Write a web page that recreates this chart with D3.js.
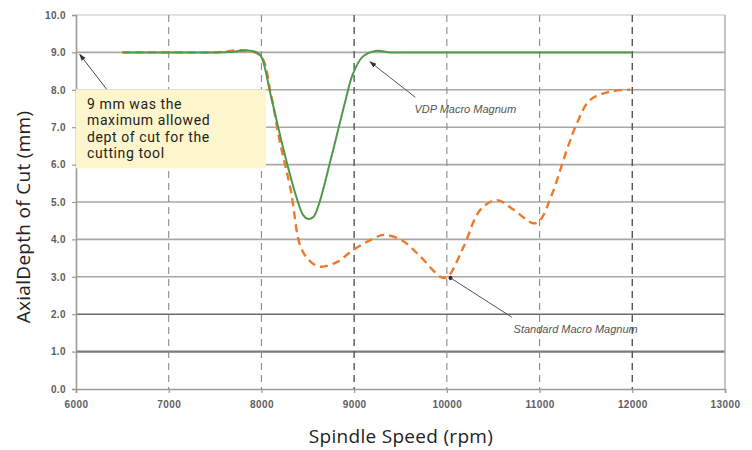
<!DOCTYPE html>
<html><head><meta charset="utf-8">
<script src="https://cdn.jsdelivr.net/npm/d3@7"></script>
<style>body{margin:0;background:#fff}svg{display:block}</style>
</head><body>
<svg id="c" width="752" height="450"></svg>
<script>
const xTicks = [6000,7000,8000,9000,10000,11000,12000,13000];
const yTicks = [0,1,2,3,4,5,6,7,8,9,10];
const vdpRpm   = [6500,7000,7500,7700,7850,7950,8000,8100,8240,8370,8450,8500,8560,8617,8746,8908,8983,9090,9230,9400,9800,10500,11500,12000];
const vdpDepth = [9.0,9.0,9.0,9.02,9.05,9.0,8.88,7.86,6.39,5.19,4.65,4.55,4.6,4.92,6.12,7.73,8.4,8.88,9.04,9.0,9.0,9.0,9.0,9.0];
const stdRpm   = [6500,7000,7500,7850,8000,8100,8200,8316,8423,8531,8638,8818,8990,9248,9320,9500,9715,9930,10000,10180,10360,10540,10720,10934,11007,11133,11294,11402,11545,11760,11976];
const stdDepth = [9.0,9.0,9.0,9.05,8.88,7.9,6.6,5.32,3.8,3.4,3.27,3.4,3.72,4.07,4.12,4.0,3.54,3.0,2.98,3.8,4.79,5.05,4.79,4.43,4.52,5.2,6.39,7.1,7.73,7.95,8.0];
const noteLines = ["9 mm was the","maximum allowed","dept of cut for the","cutting tool"];

const svg = d3.select("#c");
const x = d3.scaleLinear().domain([6000,13000]).range([76,725]);
const y = d3.scaleLinear().domain([0,10]).range([389,15]);

// horizontal grid
const hColor = v => v===1 ? "#7a7a7a" : v===2 ? "#6a6a6a" : v===10 ? "#d6d6d6" : "#a8a8a8";
const hWidth = v => v===1 ? 2.2 : v===2 ? 1.5 : 1.6;
svg.append("g").selectAll("line").data(yTicks.filter(v=>v>0)).join("line")
  .attr("x1",x(6000)).attr("x2",x(13000)).attr("y1",d=>y(d)).attr("y2",d=>y(d))
  .attr("stroke",hColor).attr("stroke-width",hWidth);
// vertical dashed grid
svg.append("g").selectAll("line").data(xTicks.filter(v=>v>6000&&v<13000)).join("line")
  .attr("x1",d=>x(d)).attr("x2",d=>x(d)).attr("y1",y(10)).attr("y2",y(0))
  .attr("stroke",d=>(d===9000||d===12000)?"#555":"#8a8a8a")
  .attr("stroke-width",d=>(d===9000||d===12000)?1.4:1.1)
  .attr("stroke-dasharray","7,5");
// right border
svg.append("line").attr("x1",x(13000)).attr("x2",x(13000)).attr("y1",y(10)).attr("y2",y(0))
  .attr("stroke","#b0b0b0").attr("stroke-width",1.5);

// axes
const tickFont = "bold 10px 'Liberation Sans', Arial, sans-serif";
const ax = svg.append("g").attr("transform",`translate(0,${y(0)})`)
  .call(d3.axisBottom(x).tickValues(xTicks).tickSize(4).tickPadding(8).tickFormat(d3.format("d")));
const ay = svg.append("g").attr("transform",`translate(${x(6000)},0)`)
  .call(d3.axisLeft(y).tickValues(yTicks).tickSize(4).tickPadding(6).tickFormat(d3.format(".1f")));
[ax,ay].forEach(g=>{
  g.select(".domain").attr("stroke","#9a9a9a").attr("stroke-width",1.6);
  g.selectAll(".tick line").attr("stroke","#9a9a9a").attr("stroke-width",1.2);
  g.selectAll("text").style("font",tickFont).style("letter-spacing","0.4px").attr("fill","#5e5e5e");
});

// lines
const line = d3.line().x(d=>x(d[0])).y(d=>y(d[1])).curve(d3.curveCatmullRom.alpha(0.5));
svg.append("path").datum(d3.zip(stdRpm,stdDepth)).attr("d",line)
  .attr("fill","none").attr("stroke","#f07a2a").attr("stroke-width",2.4).attr("stroke-dasharray","8,5");
svg.append("path").datum(d3.zip(vdpRpm,vdpDepth)).attr("d",line)
  .attr("fill","none").attr("stroke","#4e9a48").attr("stroke-width",2);

// arrow markers
svg.append("defs").append("marker").attr("id","ah").attr("viewBox","0 0 10 10")
  .attr("refX",9).attr("refY",5).attr("markerWidth",7).attr("markerHeight",7).attr("orient","auto")
  .append("path").attr("d","M0,1.5L10,5L0,8.5z").attr("fill","#333");

// annotation: note box
const bx = x(6000), by = y(8.0);
svg.append("line").attr("x1",x(6350)).attr("y1",y(7.95)).attr("x2",x(6040)).attr("y2",y(8.95))
  .attr("stroke","#444").attr("stroke-width",1).attr("marker-end","url(#ah)");
svg.append("rect").attr("x",bx).attr("y",by-0.5).attr("width",190).attr("height",79)
  .attr("fill","#fdf5cc");
svg.append("g").selectAll("text").data(noteLines).join("text")
  .attr("x",bx+11).attr("y",(d,i)=>by+19+i*16.5)
  .style("font","14px Roboto, 'Open Sans', sans-serif").style("letter-spacing","0.6px")
  .attr("fill","#222").text(d=>d);

// VDP label
svg.append("line").attr("x1",x(9660)).attr("y1",y(7.8)).attr("x2",x(9170)).attr("y2",y(8.75))
  .attr("stroke","#555").attr("stroke-width",1).attr("marker-end","url(#ah)");
svg.append("text").attr("x",x(9650)).attr("y",y(7.38))
  .style("font","italic 11px 'Liberation Sans', Arial, sans-serif").attr("fill","#555").text("VDP Macro Magnum");
// Standard label
svg.append("circle").attr("cx",x(10040)).attr("cy",y(2.97)).attr("r",2).attr("fill","#222");
svg.append("line").attr("x1",x(10040)).attr("y1",y(2.97)).attr("x2",x(10700)).attr("y2",y(1.92))
  .attr("stroke","#555").attr("stroke-width",1);
svg.append("text").attr("x",x(10720)).attr("y",y(1.5))
  .style("font","italic 11px 'Liberation Sans', Arial, sans-serif").attr("fill","#555").text("Standard Macro Magnum");

// titles
svg.append("text").attr("x",401).attr("y",443).attr("text-anchor","middle")
  .style("font","19px 'Open Sans', 'Noto Sans', sans-serif").style("letter-spacing","0.3px")
  .attr("fill","#222").text("Spindle Speed (rpm)");
svg.append("text").attr("transform","translate(30,217) rotate(-90)").attr("text-anchor","middle")
  .style("font","19px 'Open Sans', 'Noto Sans', sans-serif").style("letter-spacing","0.3px")
  .attr("fill","#222").text("AxialDepth of Cut (mm)");
</script>
</body></html>
